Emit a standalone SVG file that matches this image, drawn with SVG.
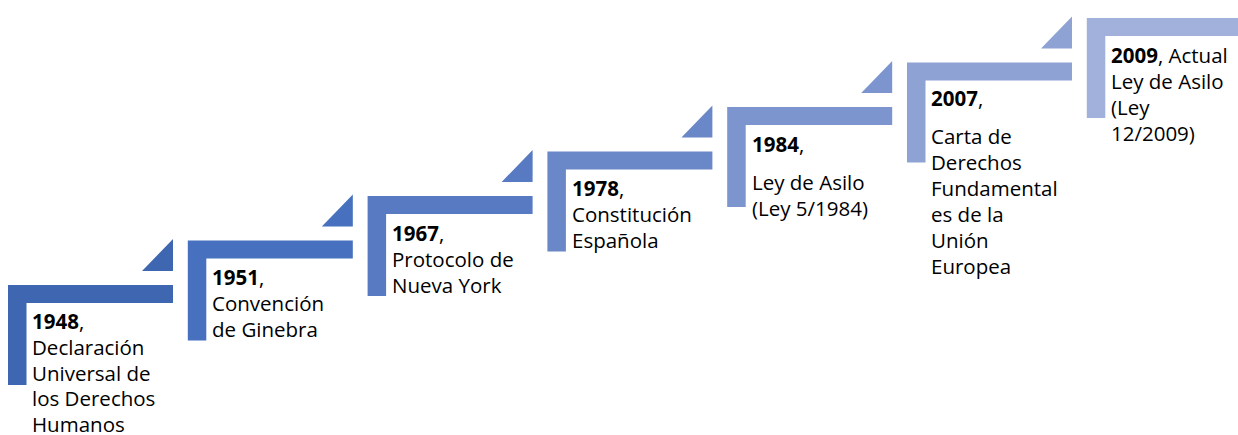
<svg xmlns="http://www.w3.org/2000/svg" width="1238" height="435" viewBox="0 0 1238 435">
<style>
text { font-family: "Open Sans", "Liberation Sans", sans-serif; font-size: 20.5px; fill: #000; }
.y { font-weight: bold; }
.c1 { fill: #3F66B1; }
.c2 { fill: #4770BF; }
.c3 { fill: #587AC3; }
.c4 { fill: #6A87C8; }
.c5 { fill: #7C95CE; }
.c6 { fill: #8EA3D4; }
.c7 { fill: #A1B1DB; }
</style>
<defs>
<path id="step" d="M0,0 h165 v18 h-146.5 v82 h-18.5 z"/>
<path id="tri" d="M134,-14 h31 v-32 z"/>
</defs>
<rect width="1238" height="435" fill="#fff"/>
<g id="connectors">
<use href="#tri" class="c1" transform="translate(8,285)"/>
<use href="#tri" class="c2" transform="translate(187.8,240.5)"/>
<use href="#tri" class="c3" transform="translate(367.6,196)"/>
<use href="#tri" class="c4" transform="translate(547.4,151.5)"/>
<use href="#tri" class="c5" transform="translate(727.2,107)"/>
<use href="#tri" class="c6" transform="translate(907,62.5)"/>
</g>
<g id="step1948">
<use href="#step" class="c1" transform="translate(8,285)"/>
<text x="32" y="329"><tspan class="y">1948</tspan>,</text>
<text x="32" y="355">Declaración</text>
<text x="32" y="380.5">Universal de</text>
<text x="32" y="406">los Derechos</text>
<text x="32" y="431.5">Humanos</text>
</g>
<g id="step1951">
<use href="#step" class="c2" transform="translate(187.8,240.5)"/>
<text x="212" y="285"><tspan class="y">1951</tspan>,</text>
<text x="212" y="311">Convención</text>
<text x="212" y="337">de Ginebra</text>
</g>
<g id="step1967">
<use href="#step" class="c3" transform="translate(367.6,196)"/>
<text x="392" y="241"><tspan class="y">1967</tspan>,</text>
<text x="392" y="267">Protocolo de</text>
<text x="392" y="293">Nueva York</text>
</g>
<g id="step1978">
<use href="#step" class="c4" transform="translate(547.4,151.5)"/>
<text x="572" y="196"><tspan class="y">1978</tspan>,</text>
<text x="572" y="222">Constitución</text>
<text x="572" y="248">Española</text>
</g>
<g id="step1984">
<use href="#step" class="c5" transform="translate(727.2,107)"/>
<text x="752" y="152"><tspan class="y">1984</tspan>,</text>
<text x="752" y="190">Ley de Asilo</text>
<text x="752" y="216">(Ley 5/1984)</text>
</g>
<g id="step2007">
<use href="#step" class="c6" transform="translate(907,62.5)"/>
<text x="931" y="106"><tspan class="y">2007</tspan>,</text>
<text x="931" y="143.5">Carta de</text>
<text x="931" y="169.5">Derechos</text>
<text x="931" y="195.5">Fundamental</text>
<text x="931" y="221.5">es de la</text>
<text x="931" y="247.5">Unión</text>
<text x="931" y="273.5">Europea</text>
</g>
<g id="step2009">
<use href="#step" class="c7" transform="translate(1086.8,18)"/>
<text x="1111" y="63"><tspan class="y">2009</tspan>, Actual</text>
<text x="1111" y="89">Ley de Asilo</text>
<text x="1111" y="115">(Ley</text>
<text x="1111" y="141">12/2009)</text>
</g>
</svg>
